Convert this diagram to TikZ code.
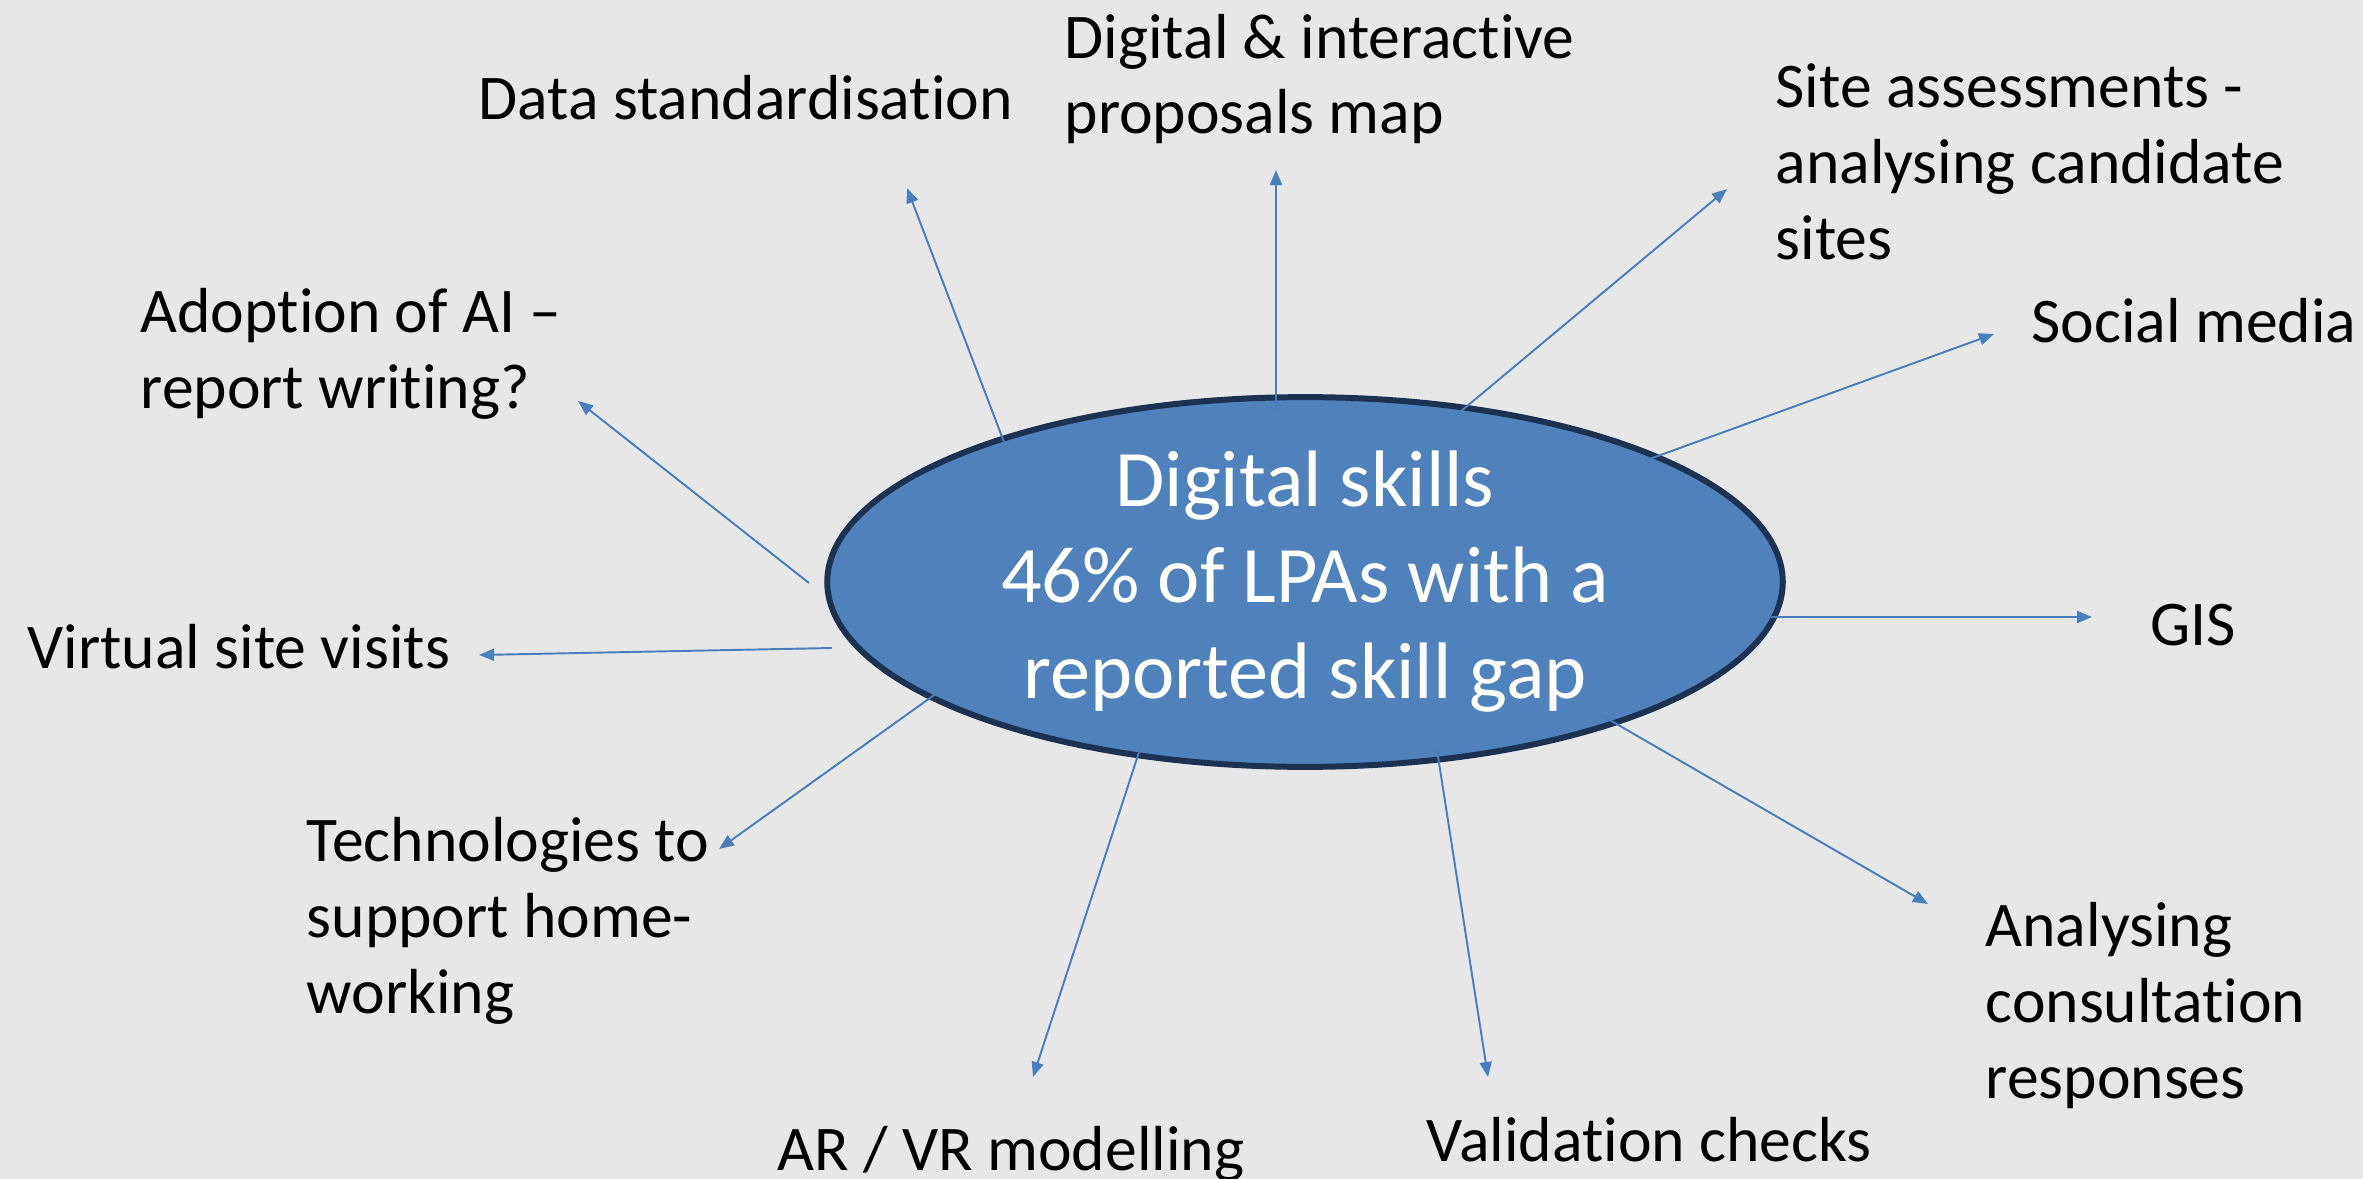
\documentclass[tikz,border=0pt]{standalone}
\usepackage{fontspec}
\setmainfont{Carlito}[Ligatures=NoCommon]
\usetikzlibrary{shapes.geometric,arrows.meta}
\definecolor{bg}{HTML}{E7E7E7}
\definecolor{ellfill}{HTML}{4F81BD}
\definecolor{elldraw}{HTML}{1C3250}
\definecolor{arrowc}{HTML}{4A7EBB}
\tikzset{
  lbl/.style={inner sep=0pt, align=left, font=\fontsize{18.1pt}{21.5pt}\selectfont, text=black},
  conn/.style={draw=arrowc, line width=0.55pt, -{Triangle[length=0.15cm,width=0.12cm]}},
  hub/.style={ellipse, fill=ellfill, draw=elldraw, line width=1.7pt, minimum width=9.55cm, minimum height=3.34cm, inner sep=0pt, align=center, text=white, font=\fontsize{22.8pt}{27.3pt}\selectfont}
}
\begin{document}
\begin{tikzpicture}[x=0.01cm,y=-0.01cm]
\fill[bg] (0,0) rectangle (2363,1179);
\useasboundingbox (0,0) rectangle (2363,1179);

\node[hub] (hub) at (1305,582) {Digital skills\\46\% of LPAs with a\\reported skill gap};

% labels (anchor = baseline of the last line)
\node[lbl, anchor=base west] (ds) at (478,120) {Data standardisation};
\node[lbl, anchor=base west] (dim) at (1064,134) {Digital \& interactive\\proposals map};
\node[lbl, anchor=base west] (site) at (1775,259) {Site assessments -\\analysing candidate\\sites};
\node[lbl, anchor=base west] (soc) at (2031,343) {Social media};
\node[lbl, anchor=base west] (gis) at (2150,645) {GIS};
\node[lbl, anchor=base west] (ana) at (1985,1098) {Analysing\\consultation\\responses};
\node[lbl, anchor=base west] (val) at (1426,1161) {Validation checks};
\node[lbl, anchor=base west] (arvr) at (777,1170) {AR / VR modelling};
\node[lbl, anchor=base west] (tech) at (306,1013) {Technologies to\\support home-\\working};
\node[lbl, anchor=base west] (vir) at (27,668) {Virtual site visits};
\node[lbl, anchor=base west] (ai) at (140,408) {Adoption of AI –\\report writing?};

% connector end points
\coordinate (s1) at (1004,442); \coordinate (e1) at (907,188);
\coordinate (s2) at (1276,413); \coordinate (e2) at (1276,170);
\coordinate (s3) at (1454,417); \coordinate (e3) at (1727,189);
\coordinate (s4) at (1644,461); \coordinate (e4) at (1994,334);
\coordinate (s5) at (1771,617); \coordinate (e5) at (2092,617);
\coordinate (s6) at (1601,715); \coordinate (e6) at (1928,904);
\coordinate (s7) at (1437,750); \coordinate (e7) at (1488,1077);
\coordinate (s8) at (1142,743); \coordinate (e8) at (1033,1077);
\coordinate (s9) at (937,693);  \coordinate (e9) at (719,849);
\coordinate (s10) at (832,648); \coordinate (e10) at (479,655);
\coordinate (s11) at (809,583); \coordinate (e11) at (578,401);

\foreach \i in {1,...,11} \draw[conn] (s\i) -- (e\i);
\end{tikzpicture}
\end{document}
